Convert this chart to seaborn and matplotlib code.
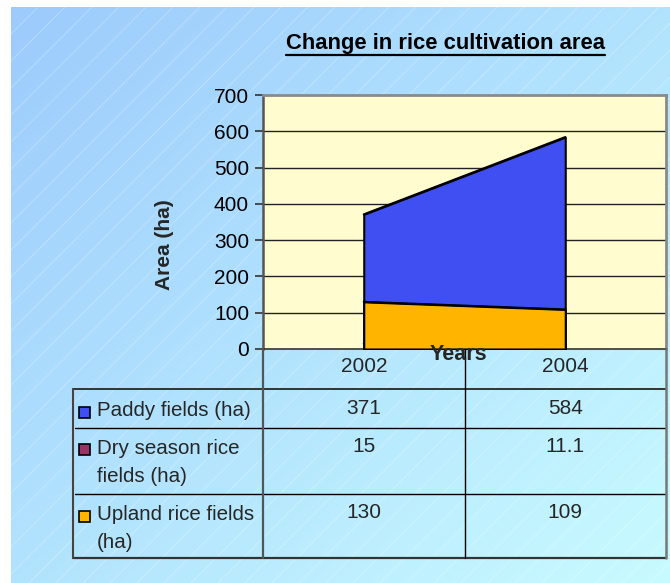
import numpy as np
import pandas as pd
import matplotlib
matplotlib.use("Agg")
import matplotlib.pyplot as plt
import matplotlib.transforms as mtransforms
from matplotlib.lines import Line2D
from matplotlib.patches import Rectangle
import seaborn as sns

# ---- data -------------------------------------------------------------
years = ["2002", "2004"]
series_names = ["Paddy fields (ha)",
                "Dry season rice\nfields (ha)",
                "Upland rice fields\n(ha)"]
paddy = [371, 584]
dry_season = [15, 11.1]
upland = [130, 109]
y_ticks = [0, 100, 200, 300, 400, 500, 600, 700]

series_values = [paddy, dry_season, upland]
series_colors = ["#3f4ff2", "#993366", "#ffb400"]

# ---- style ------------------------------------------------------------
sns.set_theme(style="white")
plt.rcParams["font.family"] = ["Liberation Sans", "DejaVu Sans"]

W, H = 670, 583
fig = plt.figure(figsize=(W / 100, H / 100), dpi=100)
fig.patch.set_facecolor("white")


def fx(px):
    return px / W


def fy(py):
    return 1 - py / H


# ---- gradient background with faint diagonal streaks -----------------
bg = fig.add_axes([fx(11), 0, 1 - fx(11), fy(7)], zorder=-10)
nx, ny = 300, 300
gx, gy = np.meshgrid(np.linspace(0, 1, nx), np.linspace(0, 1, ny))
t = np.clip((gx + gy) / 2, 0, 1)
c0 = np.array([156, 203, 252]) / 255
c1 = np.array([200, 251, 255]) / 255
img = c0[None, None, :] * (1 - t[..., None]) + c1[None, None, :] * t[..., None]
bg.imshow(img, extent=[0, 1, 0, 1], aspect="auto", origin="upper")
bw, bh = W - 11, H - 7
for off in np.arange(-bh, bw, 27):
    bg.plot([off / bw, (off + bh * 1.1) / bw], [0, 1.1],
            color="white", lw=0.6, alpha=0.3)
bg.set_xlim(0, 1)
bg.set_ylim(0, 1)
bg.axis("off")

# ---- plot area --------------------------------------------------------
left, right, top, bottom = 263, 666, 95, 349
ax = fig.add_axes([fx(left), fy(bottom), fx(right - left), (bottom - top) / H])
ax.set_facecolor("#fffdcf")
xpos = np.arange(len(years))
ax.set_xlim(-0.5, len(years) - 0.5)
ax.set_ylim(y_ticks[0], y_ticks[-1])
ax.set_yticks(y_ticks)
ax.set_xticks([])
for v in y_ticks[1:-1]:
    ax.axhline(v, color="#222222", lw=1.0, zorder=1)

# overlapping area series: paddy behind, upland in front
for k, (name, vals, col) in enumerate(zip(series_names, series_values,
                                          series_colors)):
    ax.fill_between(xpos, 0, vals, facecolor=col, edgecolor="black",
                    lw=1.5, zorder=2 + 2 * k)
    sns.lineplot(x=xpos, y=vals, color="black", lw=1.5, ax=ax,
                 zorder=3 + 2 * k)
ax.set_xlabel("")
ax.set_ylabel("")

ax.tick_params(axis="y", which="both", left=True, length=6, width=1.2,
               color="#333333", labelsize=15, pad=4, labelcolor="black")
ax.spines["left"].set_color("#555555")
ax.spines["left"].set_linewidth(1.8)
ax.spines["bottom"].set_color("#333333")
ax.spines["bottom"].set_linewidth(1.2)
for s in ["top", "right"]:
    ax.spines[s].set_color("#8a8a8a")
    ax.spines[s].set_linewidth(2.0)

# ---- titles -----------------------------------------------------------
title = fig.text(fx(445), fy(44), "Change in rice cultivation area",
                 ha="center", va="center", fontsize=15.8,
                 fontweight="bold", color="black")
fig.text(fx(165), fy(245), "Area (ha)", rotation=90, ha="center",
         va="center", fontsize=15, fontweight="bold")
fig.text(fx(458), fy(354), "Years", ha="center", va="center",
         fontsize=15.5, fontweight="bold", zorder=20)

fig.canvas.draw()
bb = title.get_window_extent().transformed(fig.transFigure.inverted())
fig.add_artist(Line2D([bb.x0, bb.x1], [fy(54.5)] * 2,
                      color="black", lw=1.6))

# ---- data table -------------------------------------------------------
tleft, ttop, tbot = 73, 389, 558
row_lines = [428, 494]
row_text_y = [[411], [448, 476], [514, 543]]
value_y = [409, 447, 513]
marker_y = [412, 449, 516]


def hline(y, x0, x1, color, lw):
    fig.add_artist(Line2D([fx(x0), fx(x1)], [fy(y)] * 2, color=color, lw=lw,
                          zorder=5))


def vline(x, y0, y1, color, lw):
    fig.add_artist(Line2D([fx(x)] * 2, [fy(y0), fy(y1)], color=color, lw=lw,
                          zorder=5))


hline(ttop, tleft, right, "#333333", 1.4)
for y in row_lines:
    hline(y, tleft + 2, right, "black", 1.0)
hline(tbot, tleft, right, "#333333", 1.6)
vline(tleft, ttop, tbot, "#444444", 1.5)
vline(left, bottom, tbot, "#555555", 1.6)
vline((left + right) / 2, bottom, tbot, "black", 1.0)
vline(right - 0.5, bottom, tbot, "#777777", 1.8)

colx = mtransforms.blended_transform_factory(ax.transData, fig.transFigure)
for i, yr in enumerate(years):
    fig.text(xpos[i], fy(367), yr, transform=colx, ha="center",
             va="center", fontsize=15)

for r, (name, vals, col) in enumerate(zip(series_names, series_values,
                                          series_colors)):
    for line, ty in zip(name.split("\n"), row_text_y[r]):
        fig.text(fx(97), fy(ty), line, ha="left", va="center",
                 fontsize=14.8)
    fig.add_artist(Rectangle((fx(78.5), fy(marker_y[r] + 5.5)), fx(11),
                             11 / H, facecolor=col, edgecolor="black",
                             lw=1.2, zorder=6))
    for i, v in enumerate(vals):
        fig.text(xpos[i], fy(value_y[r]), f"{v:g}", transform=colx,
                 ha="center", va="center", fontsize=15)

fig.savefig("out.png", dpi=100)
